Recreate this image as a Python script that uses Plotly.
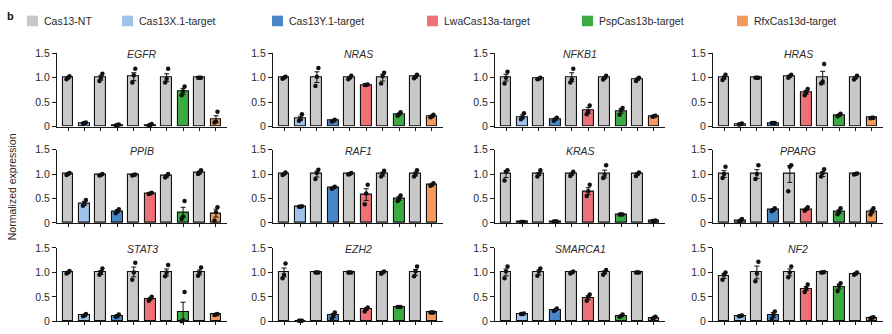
import plotly.graph_objects as go

genes = ["EGFR", "NRAS", "NFKB1", "HRAS", "PPIB", "RAF1", "KRAS", "PPARG",
         "STAT3", "EZH2", "SMARCA1", "NF2"]
series_names = ["Cas13-NT", "Cas13X.1-target", "Cas13Y.1-target",
                "LwaCas13a-target", "PspCas13b-target", "RfxCas13d-target"]
series_colors = ["#c8c8c8", "#9fc3ea", "#4a87c9", "#ef7077", "#3bab41", "#f39a5c"]
# bar order within each panel: NT, X.1, NT, Y.1, NT, Lwa, NT, Psp, NT, Rfx
bar_series = [0, 1, 0, 2, 0, 3, 0, 4, 0, 5]
y_ticks = [0, 0.5, 1.0, 1.5]
y_tick_labels = ["0", "0.5", "1.0", "1.5"]

egfr_mean = [1.00, 0.07, 1.00, 0.03, 1.02, 0.03, 1.00, 0.72, 1.00, 0.15]
egfr_sem = [0.02, 0.01, 0.05, 0.01, 0.08, 0.01, 0.08, 0.06, 0.005, 0.07]
egfr_pts = [[0.97, 1.00, 1.03], [0.06, 0.07, 0.08], [0.93, 1.00, 1.08], [0.02, 0.03, 0.04],
            [0.90, 1.05, 1.18], [0.02, 0.03, 0.05], [0.90, 0.98, 1.18], [0.64, 0.72, 0.82],
            [1.00, 1.00, 1.00], [0.08, 0.10, 0.30]]

nras_mean = [1.00, 0.17, 1.01, 0.12, 1.00, 0.85, 1.00, 0.25, 1.02, 0.21]
nras_sem = [0.01, 0.04, 0.11, 0.02, 0.02, 0.005, 0.07, 0.02, 0.02, 0.02]
nras_pts = [[0.98, 1.00, 1.02], [0.12, 0.15, 0.25], [0.83, 1.02, 1.20], [0.10, 0.12, 0.14],
            [0.97, 1.00, 1.04], [0.85, 0.85, 0.86], [0.88, 1.03, 1.10], [0.22, 0.25, 0.29],
            [0.99, 1.02, 1.06], [0.19, 0.21, 0.24]]

nfkb1_mean = [1.00, 0.20, 0.98, 0.15, 1.01, 0.33, 1.00, 0.32, 0.97, 0.21]
nfkb1_sem = [0.07, 0.04, 0.01, 0.02, 0.09, 0.06, 0.02, 0.05, 0.02, 0.01]
nfkb1_pts = [[0.88, 1.00, 1.12], [0.15, 0.19, 0.27], [0.97, 0.98, 1.00], [0.12, 0.15, 0.18],
             [0.90, 0.97, 1.18], [0.25, 0.30, 0.43], [0.96, 1.00, 1.04], [0.24, 0.33, 0.38],
             [0.93, 0.97, 1.00], [0.20, 0.21, 0.22]]

hras_mean = [1.00, 0.05, 1.00, 0.07, 1.03, 0.70, 1.00, 0.23, 1.00, 0.18]
hras_sem = [0.03, 0.01, 0.003, 0.005, 0.02, 0.04, 0.13, 0.02, 0.02, 0.005]
hras_pts = [[0.95, 1.00, 1.06], [0.04, 0.05, 0.06], [1.00, 1.00, 1.00], [0.07, 0.07, 0.07],
            [1.00, 1.03, 1.06], [0.64, 0.70, 0.77], [0.88, 0.92, 1.28], [0.21, 0.23, 0.26],
            [0.96, 1.00, 1.04], [0.17, 0.18, 0.18]]

ppib_mean = [1.00, 0.40, 0.98, 0.24, 0.98, 0.60, 0.96, 0.22, 1.03, 0.20]
ppib_sem = [0.01, 0.04, 0.01, 0.03, 0.01, 0.01, 0.02, 0.10, 0.03, 0.08]
ppib_pts = [[0.98, 1.00, 1.02], [0.35, 0.40, 0.47], [0.97, 0.98, 1.00], [0.20, 0.24, 0.28],
            [0.97, 0.98, 0.99], [0.59, 0.60, 0.62], [0.93, 0.96, 1.00], [0.08, 0.13, 0.45],
            [1.00, 1.03, 1.08], [0.05, 0.22, 0.32]]

raf1_mean = [1.00, 0.33, 1.00, 0.72, 1.00, 0.58, 1.00, 0.50, 1.00, 0.78]
raf1_sem = [0.01, 0.005, 0.06, 0.01, 0.01, 0.12, 0.04, 0.04, 0.04, 0.02]
raf1_pts = [[0.98, 1.00, 1.03], [0.33, 0.33, 0.34], [0.90, 1.02, 1.09], [0.70, 0.72, 0.74],
            [0.99, 1.00, 1.02], [0.38, 0.60, 0.78], [0.95, 1.00, 1.07], [0.45, 0.50, 0.56],
            [0.95, 1.00, 1.08], [0.76, 0.78, 0.81]]

kras_mean = [1.00, 0.02, 1.00, 0.03, 1.00, 0.65, 1.00, 0.17, 1.00, 0.04]
kras_sem = [0.07, 0.003, 0.03, 0.003, 0.02, 0.07, 0.08, 0.005, 0.02, 0.005]
kras_pts = [[0.87, 1.05, 1.08], [0.02, 0.02, 0.02], [0.95, 1.00, 1.08], [0.03, 0.03, 0.03],
            [0.96, 1.00, 1.05], [0.55, 0.65, 0.78], [0.92, 0.98, 1.18], [0.17, 0.17, 0.17],
            [0.96, 1.00, 1.03], [0.04, 0.04, 0.05]]

pparg_mean = [1.00, 0.05, 1.00, 0.27, 1.00, 0.28, 1.00, 0.23, 1.00, 0.24]
pparg_sem = [0.07, 0.02, 0.09, 0.02, 0.17, 0.02, 0.05, 0.04, 0.01, 0.04]
pparg_pts = [[0.92, 1.00, 1.15], [0.02, 0.05, 0.08], [0.90, 1.00, 1.18], [0.24, 0.27, 0.30],
             [0.65, 1.15, 1.18], [0.25, 0.28, 0.32], [0.95, 1.02, 1.10], [0.18, 0.23, 0.30],
             [0.99, 1.00, 1.01], [0.17, 0.24, 0.30]]

stat3_mean = [1.00, 0.12, 1.00, 0.11, 1.01, 0.46, 1.00, 0.20, 1.00, 0.14]
stat3_sem = [0.01, 0.02, 0.04, 0.02, 0.10, 0.02, 0.07, 0.19, 0.05, 0.01]
stat3_pts = [[0.98, 1.00, 1.03], [0.10, 0.12, 0.15], [0.95, 1.00, 1.08], [0.09, 0.11, 0.14],
             [0.85, 1.00, 1.20], [0.42, 0.46, 0.50], [0.92, 1.00, 1.15], [0.00, 0.02, 0.60],
             [0.93, 1.00, 1.10], [0.13, 0.14, 0.15]]

ezh2_mean = [1.00, 0.01, 1.00, 0.12, 1.00, 0.25, 1.00, 0.29, 1.00, 0.18]
ezh2_sem = [0.09, 0.003, 0.005, 0.04, 0.003, 0.02, 0.01, 0.005, 0.06, 0.005]
ezh2_pts = [[0.88, 0.95, 1.18], [0.01, 0.01, 0.01], [1.00, 1.00, 1.00], [0.05, 0.12, 0.18],
            [1.00, 1.00, 1.00], [0.20, 0.25, 0.28], [0.97, 1.00, 1.02], [0.29, 0.29, 0.29],
            [0.92, 1.02, 1.12], [0.18, 0.18, 0.18]]

smarca1_mean = [1.00, 0.15, 1.00, 0.23, 1.00, 0.48, 1.00, 0.11, 1.00, 0.07]
smarca1_sem = [0.07, 0.005, 0.05, 0.01, 0.02, 0.04, 0.03, 0.01, 0.003, 0.01]
smarca1_pts = [[0.88, 1.02, 1.12], [0.15, 0.15, 0.16], [0.93, 1.02, 1.08], [0.21, 0.23, 0.26],
               [0.98, 1.00, 1.02], [0.42, 0.50, 0.55], [0.95, 1.00, 1.05], [0.09, 0.11, 0.14],
               [1.00, 1.00, 1.00], [0.05, 0.07, 0.09]]

nf2_mean = [0.93, 0.11, 1.00, 0.13, 1.00, 0.67, 1.00, 0.71, 0.97, 0.07]
nf2_sem = [0.05, 0.01, 0.13, 0.05, 0.07, 0.04, 0.005, 0.05, 0.02, 0.01]
nf2_pts = [[0.85, 0.95, 1.00], [0.10, 0.11, 0.12], [0.82, 0.98, 1.22], [0.05, 0.13, 0.20],
           [0.90, 1.00, 1.12], [0.60, 0.67, 0.75], [1.00, 1.00, 1.01], [0.62, 0.72, 0.78],
           [0.95, 0.97, 1.00], [0.06, 0.07, 0.08]]

panel_means = [egfr_mean, nras_mean, nfkb1_mean, hras_mean, ppib_mean, raf1_mean,
               kras_mean, pparg_mean, stat3_mean, ezh2_mean, smarca1_mean, nf2_mean]
panel_sems = [egfr_sem, nras_sem, nfkb1_sem, hras_sem, ppib_sem, raf1_sem,
              kras_sem, pparg_sem, stat3_sem, ezh2_sem, smarca1_sem, nf2_sem]
panel_pts = [egfr_pts, nras_pts, nfkb1_pts, hras_pts, ppib_pts, raf1_pts,
             kras_pts, pparg_pts, stat3_pts, ezh2_pts, smarca1_pts, nf2_pts]

# ---------------- layout geometry (pixels) ----------------
W, H = 892, 334
col_left = [57, 273, 495, 713]
col_width = 170
row_top = [49, 149, 251]
row_height = 76
FONT = "Liberation Sans, Arial, sans-serif"
TXT = "#2a2a2a"
AX = "#1a1a1a"
dot_offsets = [-0.09, 0.0, 0.09]

fig = go.Figure()
layout_axes = {}
annotations = []
shapes = []

for i, gene in enumerate(genes):
    r, c = divmod(i, 4)
    n = i + 1
    xa = "x" if n == 1 else f"x{n}"
    ya = "y" if n == 1 else f"y{n}"
    xs = list(range(len(panel_means[i])))
    colors = [series_colors[s] for s in bar_series]
    fig.add_trace(go.Bar(
        x=xs, y=panel_means[i], xaxis=xa, yaxis=ya, width=0.66,
        marker=dict(color=colors, line=dict(color="#111111", width=1.1)),
        error_y=dict(type="data", array=panel_sems[i], color="#111111",
                     thickness=1, width=2.5),
        showlegend=False, hoverinfo="skip"))
    px, py = [], []
    for j, trip in enumerate(panel_pts[i]):
        for k, v in enumerate(trip):
            px.append(j + dot_offsets[k])
            py.append(v)
    fig.add_trace(go.Scatter(
        x=px, y=py, xaxis=xa, yaxis=ya, mode="markers",
        marker=dict(color="#111111", size=4.5), cliponaxis=False,
        showlegend=False, hoverinfo="skip"))

    x0 = col_left[c] / W
    x1 = (col_left[c] + col_width) / W
    ytop = 1 - row_top[r] / H
    ybot = 1 - (row_top[r] + row_height) / H
    key = "" if n == 1 else str(n)
    layout_axes[f"xaxis{key}"] = dict(
        domain=[x0, x1], anchor=ya, range=[-0.67, 9.67],
        showgrid=False, zeroline=False, showline=True, linecolor=AX, linewidth=1,
        tickmode="array", tickvals=xs, ticktext=[""] * len(xs),
        ticks="outside", ticklen=3, tickwidth=1, tickcolor=AX, fixedrange=True)
    layout_axes[f"yaxis{key}"] = dict(
        domain=[ybot, ytop], anchor=xa, range=[0, 1.5],
        showgrid=False, zeroline=False, showline=True, linecolor=AX, linewidth=1,
        tickmode="array", tickvals=y_ticks, ticktext=y_tick_labels,
        ticks="outside", ticklen=4, tickwidth=1, tickcolor=AX,
        tickfont=dict(family=FONT, size=10.5, color=TXT), fixedrange=True)
    annotations.append(dict(
        text=f"<i>{gene}</i>", x=(x0 + x1) / 2, y=1 - (row_top[r] + 1) / H,
        xref="paper", yref="paper", xanchor="center", yanchor="middle",
        showarrow=False, font=dict(family=FONT, size=10.5, color=TXT)))

# legend drawn at the top
legend_x = [27, 122, 272, 427, 582, 737]
for k, name in enumerate(series_names):
    lx = legend_x[k]
    shapes.append(dict(type="rect", xref="paper", yref="paper",
                       x0=lx / W, x1=(lx + 11) / W, y0=1 - 21 / H, y1=1 - 10 / H,
                       fillcolor=series_colors[k], line=dict(width=0)))
    annotations.append(dict(text=name, x=(lx + 15) / W, y=1 - 15.5 / H,
                            xref="paper", yref="paper", xanchor="left",
                            yanchor="middle", showarrow=False,
                            font=dict(family=FONT, size=10.5, color=TXT)))

annotations.append(dict(text="<b>b</b>", x=5 / W, y=1 - 10 / H, xref="paper",
                        yref="paper", xanchor="left", yanchor="middle",
                        showarrow=False, font=dict(family=FONT, size=11, color="#111")))
annotations.append(dict(text="Normalized expression", x=12 / W, y=1 - 188 / H,
                        xref="paper", yref="paper", xanchor="center",
                        yanchor="middle", textangle=-90, showarrow=False,
                        font=dict(family=FONT, size=10.5, color=TXT)))

fig.update_layout(
    width=W, height=H, margin=dict(l=0, r=0, t=0, b=0),
    paper_bgcolor="white", plot_bgcolor="white",
    annotations=annotations, shapes=shapes, bargap=0, **layout_axes)

fig.write_html("out.html")
